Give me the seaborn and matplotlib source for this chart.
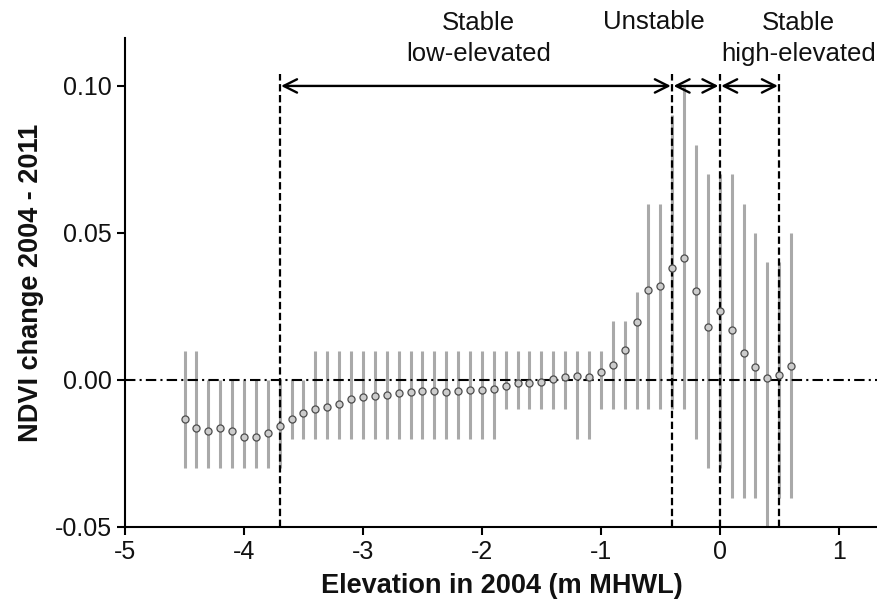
import numpy as np
import pandas as pd
import matplotlib
matplotlib.use("Agg")
import matplotlib.pyplot as plt
from matplotlib.ticker import FormatStrFormatter
import seaborn as sns

# elevation bins (m MHWL) and mean NDVI change with its range
elevation = [-4.5, -4.4, -4.3, -4.2, -4.1, -4.0, -3.9, -3.8, -3.7, -3.6,
             -3.5, -3.4, -3.3, -3.2, -3.1, -3.0, -2.9, -2.8, -2.7, -2.6,
             -2.5, -2.4, -2.3, -2.2, -2.1, -2.0, -1.9, -1.8, -1.7, -1.6,
             -1.5, -1.4, -1.3, -1.2, -1.1, -1.0, -0.9, -0.8, -0.7, -0.6,
             -0.5, -0.4, -0.3, -0.2, -0.1, 0.0, 0.1, 0.2, 0.3, 0.4,
             0.5, 0.6]
ndvi_change = [-0.0134, -0.0163, -0.0172, -0.0164, -0.0172, -0.0193, -0.0193, -0.0180, -0.0156, -0.0133,
               -0.0111, -0.0100, -0.0092, -0.0083, -0.0066, -0.0057, -0.0054, -0.0052, -0.0043, -0.0040,
               -0.0036, -0.0036, -0.0040, -0.0036, -0.0034, -0.0034, -0.0031, -0.0020, -0.0009, -0.0011,
               -0.0007, 0.0002, 0.0011, 0.0014, 0.0009, 0.0027, 0.0052, 0.0102, 0.0196, 0.0306,
               0.0320, 0.0380, 0.0416, 0.0304, 0.0179, 0.0236, 0.0171, 0.0093, 0.0043, 0.0006,
               0.0017, 0.0048]
upper = [0.01, 0.01, 0.00, 0.00, 0.00, 0.00, 0.00, 0.00, 0.00, 0.00,
         0.00, 0.01, 0.01, 0.01, 0.01, 0.01, 0.01, 0.01, 0.01, 0.01,
         0.01, 0.01, 0.01, 0.01, 0.01, 0.01, 0.01, 0.01, 0.01, 0.01,
         0.01, 0.01, 0.01, 0.01, 0.01, 0.01, 0.02, 0.02, 0.03, 0.06,
         0.06, 0.09, 0.10, 0.08, 0.07, 0.07, 0.07, 0.06, 0.05, 0.04,
         0.04, 0.05]
lower = [-0.03, -0.03, -0.03, -0.03, -0.03, -0.03, -0.03, -0.03, -0.03, -0.02,
         -0.02, -0.02, -0.02, -0.02, -0.02, -0.02, -0.02, -0.02, -0.02, -0.02,
         -0.02, -0.02, -0.02, -0.02, -0.02, -0.02, -0.02, -0.01, -0.01, -0.01,
         -0.01, -0.01, -0.01, -0.02, -0.02, -0.01, -0.01, -0.01, -0.01, -0.01,
         -0.01, -0.01, -0.01, -0.02, -0.03, -0.03, -0.04, -0.04, -0.04, -0.05,
         -0.04, -0.04]

# zone boundaries and labels
bounds = [-3.7, -0.4, 0.0, 0.5]
zone_labels = ["Stable\nlow-elevated", "Unstable", "Stable\nhigh-elevated"]
zone_label_x = [-2.03, -0.55, 0.66]

df = pd.DataFrame({"elev": elevation, "ndvi": ndvi_change, "lo": lower, "hi": upper})

sns.set_style("ticks")
plt.rcParams["font.family"] = ["Liberation Sans", "DejaVu Sans"]
plt.rcParams["axes.unicode_minus"] = False
plt.rcParams["text.color"] = "#111111"
plt.rcParams["axes.labelcolor"] = "#111111"
plt.rcParams["xtick.labelcolor"] = "#111111"
plt.rcParams["ytick.labelcolor"] = "#111111"

fig = plt.figure(figsize=(8.78, 6.13), dpi=100)
ax = fig.add_axes([0.1424, 0.1403, 0.8576, 0.7977])

ax.vlines(df["elev"], df["lo"], df["hi"], color="#a9a9a9", lw=2.2, zorder=1)
ax.axhline(0, color="black", lw=1.5, dashes=(5, 2, 1, 2), zorder=2)
ax.vlines(bounds, -0.05, 0.104, color="black", lw=1.6, linestyles=(0, (3.3, 1.6)),
          zorder=3, clip_on=False)

sns.scatterplot(data=df, x="elev", y="ndvi", ax=ax, s=26, color="#cccccc",
                edgecolor="#4d4d4d", linewidth=0.9, zorder=4)

for a, b in zip(bounds[:-1], bounds[1:]):
    ax.annotate("", xy=(b, 0.10), xytext=(a, 0.10),
                arrowprops=dict(arrowstyle="<->", lw=1.7, color="black",
                                mutation_scale=24, shrinkA=1, shrinkB=1))

for lab, xx in zip(zone_labels, zone_label_x):
    yy = 0.1161 if "\n" in lab else 0.1218
    ax.text(xx, yy, lab, ha="center", va="center", fontsize=18.5,
            linespacing=1.35, clip_on=False)

ax.set_xlim(-5, 1.33)
ax.set_ylim(-0.05, 0.1163)
ax.set_xticks([-5, -4, -3, -2, -1, 0, 1])
ax.set_yticks([-0.05, 0.00, 0.05, 0.10])
ax.yaxis.set_major_formatter(FormatStrFormatter("%.2f"))
ax.tick_params(labelsize=18, length=6, width=1.5, color="black")
for s in ["left", "bottom"]:
    ax.spines[s].set_linewidth(1.5)
    ax.spines[s].set_color("black")
sns.despine(ax=ax)

ax.set_xlabel("Elevation in 2004 (m MHWL)", fontsize=19.5, fontweight="bold", labelpad=6)
ax.set_ylabel("NDVI change 2004 - 2011", fontsize=19.5, fontweight="bold", labelpad=8)

fig.savefig("out.png", dpi=100)
